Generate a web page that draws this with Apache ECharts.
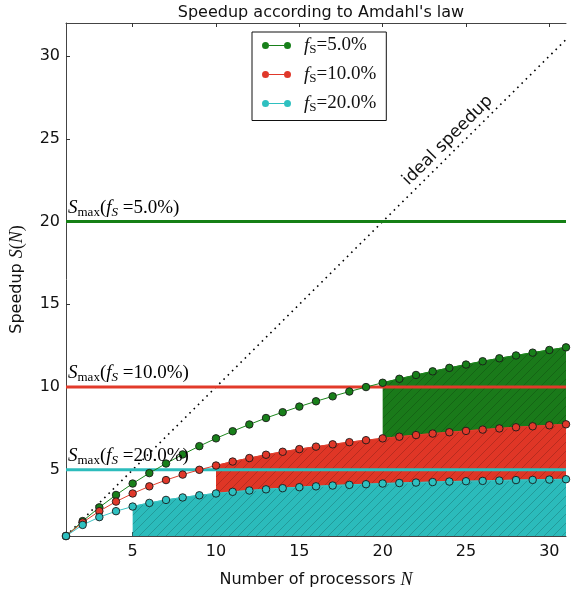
<!DOCTYPE html>
<html>
<head>
<meta charset="utf-8">
<script src="https://cdn.jsdelivr.net/npm/echarts@6/dist/echarts.min.js"></script>
<style>
  html, body { margin: 0; padding: 0; background: #fff; }
  #chart { width: 576px; height: 594px; }
</style>
</head>
<body>
<div id="chart"></div>
<script>
// number of processors
const procs = [1, 2, 3, 4, 5, 6, 7, 8, 9, 10, 11, 12, 13, 14, 15, 16, 17, 18, 19, 20,
  21, 22, 23, 24, 25, 26, 27, 28, 29, 30, 31];
// speedup
const speedup5 = [1.00, 1.90, 2.73, 3.48, 4.17, 4.80, 5.38, 5.93, 6.43, 6.90, 7.33, 7.74,
  8.13, 8.48, 8.82, 9.14, 9.44, 9.73, 10.00, 10.26, 10.50, 10.73, 10.95, 11.16, 11.36,
  11.56, 11.74, 11.91, 12.08, 12.24, 12.40];
const speedup10 = [1.00, 1.82, 2.50, 3.08, 3.57, 4.00, 4.38, 4.71, 5.00, 5.26, 5.50, 5.71,
  5.91, 6.09, 6.25, 6.40, 6.54, 6.67, 6.79, 6.90, 7.00, 7.10, 7.19, 7.27, 7.35, 7.43,
  7.50, 7.57, 7.63, 7.69, 7.75];
const speedup20 = [1.00, 1.67, 2.14, 2.50, 2.78, 3.00, 3.18, 3.33, 3.46, 3.57, 3.67, 3.75,
  3.82, 3.89, 3.95, 4.00, 4.05, 4.09, 4.13, 4.17, 4.20, 4.23, 4.26, 4.29, 4.31, 4.33,
  4.35, 4.38, 4.39, 4.41, 4.43];
const fsLabels = ['5.0%', '10.0%', '20.0%'];
const sMax = [20, 10, 5];
const fillFrom = [20, 10, 5];   // hatched area starts at this N
const idealN = [1, 31];
const idealS = [1, 31];
const xTicks = [5, 10, 15, 20, 25, 30];
const yTicks = [5, 10, 15, 20, 25, 30];

const curves = [speedup5, speedup10, speedup20];
const lineColors = ['#1c861c', '#e0402f', '#3cc4c4'];
const markerColors = ['#18801a', '#e0382a', '#2ec0c0'];
const fillColors = ['#1a7a1a', '#df3626', '#2bbbbb'];
const hlineColors = ['#158015', '#e23a2a', '#2cbcbc'];

const pair = (xs, ys) => xs.map((x, i) => [x, ys[i]]);

// hatched fill pattern
function hatch(color) {
  const c = document.createElement('canvas');
  c.width = 9; c.height = 9;
  const g = c.getContext('2d');
  g.fillStyle = color;
  g.fillRect(0, 0, 9, 9);
  g.strokeStyle = 'rgba(0,0,0,0.22)';
  g.lineWidth = 0.8;
  g.beginPath();
  g.moveTo(-1, 10); g.lineTo(10, -1);
  g.stroke();
  return c;
}

const serif = 'Liberation Serif';
const mathRich = {
  i: { fontFamily: serif, fontStyle: 'italic', fontSize: 19, lineHeight: 22, color: '#111' },
  r: { fontFamily: serif, fontSize: 19, lineHeight: 22, color: '#111' },
  sub: { fontFamily: serif, fontSize: 13, lineHeight: 12, verticalAlign: 'bottom', color: '#111' },
  isub: { fontFamily: serif, fontStyle: 'italic', fontSize: 13, lineHeight: 12, verticalAlign: 'bottom', color: '#111' }
};

const series = [];
// fills: green, red, cyan (later ones cover the lower parts)
curves.forEach((s, k) => {
  series.push({
    type: 'line',
    data: pair(procs, s).filter(p => p[0] >= fillFrom[k]),
    symbol: 'none',
    silent: true,
    z: 1,
    lineStyle: { width: 1, color: fillColors[k] },
    areaStyle: { color: { image: hatch(fillColors[k]), repeat: 'repeat' }, opacity: 1, origin: 'start' }
  });
});
// ideal speedup
series.push({
  type: 'line',
  data: pair(idealN, idealS),
  symbol: 'none',
  silent: true,
  z: 2,
  lineStyle: { color: '#000', width: 1.6, type: [1.6, 4.4] }
});
// S_max lines
sMax.forEach((v, k) => {
  series.push({
    type: 'line',
    data: [[procs[0], v], [procs[procs.length - 1], v]],
    symbol: 'none',
    silent: true,
    z: 3,
    lineStyle: { width: 3, color: hlineColors[k] }
  });
});
// curves with markers
const names = ['fs5', 'fs10', 'fs20'];
curves.forEach((s, k) => {
  series.push({
    name: names[k],
    type: 'line',
    data: pair(procs, s),
    symbol: 'circle',
    symbolSize: 7.5,
    z: 5,
    lineStyle: { width: 1, color: lineColors[k] },
    itemStyle: { color: markerColors[k], borderColor: '#1a1a1a', borderWidth: 0.9 }
  });
});

const axisCommon = {
  type: 'value',
  splitLine: { show: false },
  axisLine: { show: true, lineStyle: { color: '#444', width: 1 } },
  axisTick: { show: true, inside: true, length: 4, customValues: xTicks, lineStyle: { color: '#333' } }
};

const chart = echarts.init(document.getElementById('chart'));
chart.setOption({
  animation: false,
  backgroundColor: '#fff',
  title: {
    text: "Speedup according to Amdahl's law",
    left: 316, top: 0, textAlign: 'center',
    textStyle: { fontFamily: 'DejaVu Sans', fontSize: 16, fontWeight: 'normal', color: '#111' }
  },
  grid: { left: 66, right: 10, top: 23, bottom: 54.5 },
  legend: {
    data: names,
    left: 252, top: 32,
    orient: 'vertical',
    backgroundColor: '#fff',
    borderColor: '#111', borderWidth: 1, borderRadius: 0,
    padding: [4, 10, 6, 10],
    itemGap: 8.5,
    itemWidth: 29, itemHeight: 7,
    icon: 'path://M0,3.5a3.5,3.5 0 1,0 7,0a3.5,3.5 0 1,0 -7,0Z M22,3.5a3.5,3.5 0 1,0 7,0a3.5,3.5 0 1,0 -7,0Z M7,3h15v1h-15Z',
    itemStyle: { borderWidth: 0 },
    formatter: n => '{i|f}{sub|S}{r|=' + fsLabels[names.indexOf(n)] + '}',
    textStyle: { padding: [0, 0, 0, 8], rich: mathRich }
  },
  xAxis: [
    Object.assign({}, axisCommon, {
      min: 1, max: 31,
      axisLabel: { customValues: xTicks, margin: 8, fontFamily: 'DejaVu Sans', fontSize: 16, color: '#111' },
      name: 'Number of processors {n|N}',
      nameLocation: 'middle', nameGap: 35,
      nameTextStyle: {
        fontFamily: 'DejaVu Sans', fontSize: 16, color: '#111',
        rich: { n: { fontFamily: serif, fontStyle: 'italic', fontSize: 18, color: '#111' } }
      }
    }),
    Object.assign({}, axisCommon, {
      min: 1, max: 31, position: 'top',
      axisLabel: { show: false }
    })
  ],
  yAxis: Object.assign({}, axisCommon, {
    min: 1, max: 32,
    axisTick: { show: true, inside: true, length: 4, customValues: yTicks, lineStyle: { color: '#333' } },
    axisLabel: { customValues: yTicks, margin: 6, fontFamily: 'DejaVu Sans', fontSize: 16, color: '#111' },
    name: 'Speedup {i|S}{r|(}{i|N}{r|)}',
    nameLocation: 'middle', nameGap: 40,
    nameTextStyle: {
      fontFamily: 'DejaVu Sans', fontSize: 16, color: '#111',
      rich: {
        i: { fontFamily: serif, fontStyle: 'italic', fontSize: 18, color: '#111' },
        r: { fontFamily: serif, fontSize: 18, color: '#111' }
      }
    }
  }),
  series: series
});

// text annotations placed through the axes
const texts = sMax.map((v, k) => {
  const p = chart.convertToPixel({ gridIndex: 0 }, [procs[0], v]);
  return {
    type: 'text',
    x: p[0] + 2, y: p[1] - 3,
    z: 10,
    style: {
      text: '{i|S}{sub|max}{r|(}{i|f}{isub|S}{r| =' + fsLabels[k] + ')}',
      rich: mathRich,
      verticalAlign: 'bottom',
      align: 'left'
    }
  };
});
const ip = chart.convertToPixel({ gridIndex: 0 }, [23.9, 24.9]);
texts.push({
  type: 'text',
  x: ip[0], y: ip[1],
  rotation: Math.PI / 4,
  z: 10,
  style: {
    text: 'ideal speedup',
    fontFamily: 'DejaVu Sans', fontSize: 17, fill: '#111',
    align: 'center', verticalAlign: 'middle'
  }
});
chart.setOption({ graphic: texts });
</script>
</body>
</html>
